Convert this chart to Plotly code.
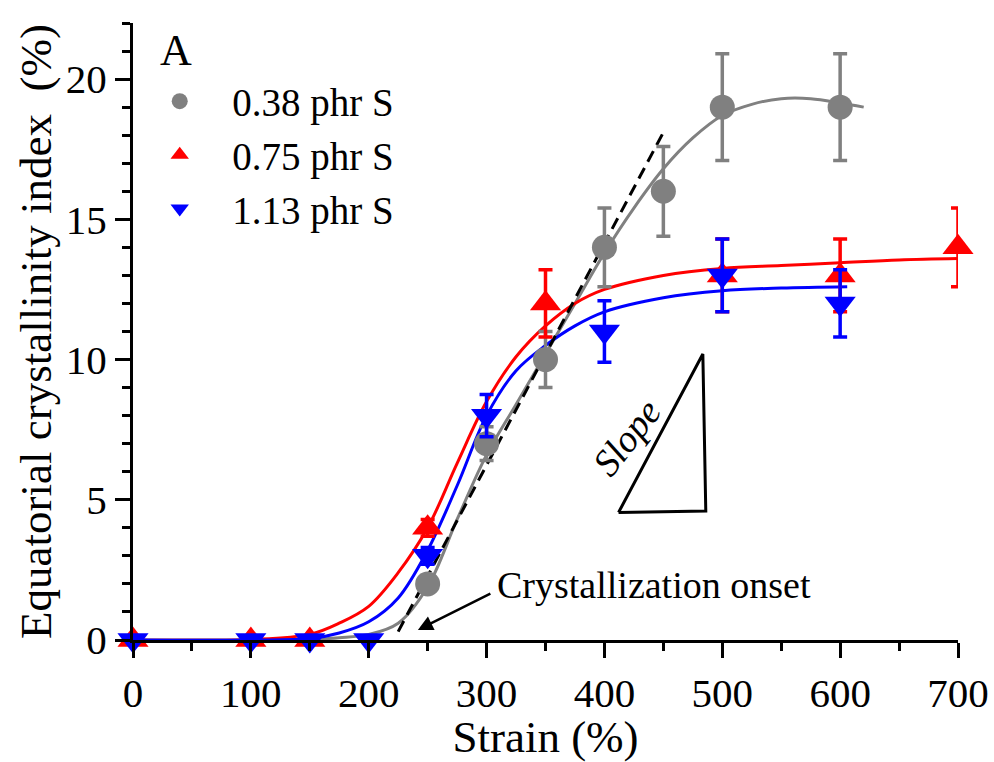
import plotly.graph_objects as go

# ---------------- data ----------------
# measured points
gray_x = [250, 300, 350, 400, 450, 500, 600]
gray_y = [2, 7, 10, 14, 16, 19, 19]
gray_err = [0.3, 0.6, 1.0, 1.4, 1.6, 1.9, 1.9]

red_x = [0, 100, 150, 250, 350, 500, 600, 700]
red_y = [0, 0, 0, 4, 12, 13, 13, 14]
red_err = [0, 0, 0, 0.3, 1.2, 1.3, 1.3, 1.4]

blue_x = [0, 100, 150, 200, 250, 300, 400, 500, 600]
blue_y = [0, 0, 0, 0, 3, 8, 11, 13, 12]
blue_err = [0, 0, 0, 0, 0.3, 0.75, 1.1, 1.3, 1.2]

# fitted curves
gray_fit_x = [0, 100, 150, 175, 200, 225, 250, 275, 300, 325, 350, 375, 400, 425, 450, 475, 500, 525, 550, 575, 600, 620]
gray_fit_y = [0, 0, 0.02, 0.08, 0.2, 0.6, 1.9, 4.3, 6.6, 8.4, 10.2, 12.0, 13.8, 15.4, 16.8, 17.9, 18.7, 19.1, 19.3, 19.3, 19.15, 19.0]

red_fit_x = [0, 100, 150, 175, 200, 225, 250, 275, 300, 325, 350, 375, 400, 450, 500, 550, 600, 650, 700]
red_fit_y = [0, 0.02, 0.2, 0.6, 1.2, 2.4, 4.0, 6.3, 8.5, 10.1, 11.2, 12.0, 12.5, 13.0, 13.25, 13.35, 13.45, 13.55, 13.6]

blue_fit_x = [0, 100, 150, 175, 200, 225, 250, 275, 300, 325, 350, 375, 400, 450, 500, 550, 606]
blue_fit_y = [0, 0, 0.05, 0.25, 0.65, 1.5, 3.2, 5.5, 8.0, 9.6, 10.5, 11.2, 11.7, 12.2, 12.45, 12.55, 12.6]

# slope guide line and triangle
slope_line_x = [225, 450]
slope_line_y = [0.3, 18.1]
tri_x = [412, 483.5, 486, 412]
tri_y = [4.55, 10.2, 4.6, 4.55]

x_ticks = [0, 100, 200, 300, 400, 500, 600, 700]
y_ticks = [0, 5, 10, 15, 20]

series_names = ["0.38 phr S", "0.75 phr S", "1.13 phr S"]

GRAY = "#808080"
RED = "#ff0000"
BLUE = "#0000ff"
FONT = "Liberation Serif"

fig = go.Figure()

# fitted curves
for fx, fy, c in [(gray_fit_x, gray_fit_y, GRAY), (red_fit_x, red_fit_y, RED), (blue_fit_x, blue_fit_y, BLUE)]:
    fig.add_trace(go.Scatter(x=fx, y=fy, mode="lines", line=dict(color=c, width=3, shape="spline"),
                             showlegend=False, hoverinfo="skip", cliponaxis=False))

# dashed slope line
fig.add_trace(go.Scatter(x=slope_line_x, y=slope_line_y, mode="lines",
                         line=dict(color="black", width=3, dash="12px,7px"),
                         showlegend=False, hoverinfo="skip", cliponaxis=False))
# triangle
fig.add_trace(go.Scatter(x=tri_x, y=tri_y, mode="lines", line=dict(color="black", width=3),
                         showlegend=False, hoverinfo="skip", cliponaxis=False))

# data points
for xs, ys, es, c, sym, sz, name in [
    (gray_x, gray_y, gray_err, GRAY, "circle", 25, series_names[0]),
    (red_x, red_y, red_err, RED, "triangle-up", 27, series_names[1]),
    (blue_x, blue_y, blue_err, BLUE, "triangle-down", 27, series_names[2]),
]:
    fig.add_trace(go.Scatter(
        x=xs, y=ys, mode="markers", name=name,
        marker=dict(symbol=sym, size=sz, color=c, line=dict(width=0)),
        error_y=dict(type="data", array=es, color=c, thickness=3.5, width=7),
        cliponaxis=False,
    ))

fig.add_annotation(x=241.7, y=0.36, xref="x", yref="y", text="", showarrow=True,
                   axref="x", ayref="y", ax=304.5, ay=1.68,
                   arrowhead=2, arrowsize=1.2, arrowwidth=2.5, arrowcolor="black", standoff=0, startstandoff=0)
fig.add_annotation(x=307, y=1.95, xref="x", yref="y", text="Crystallization onset", showarrow=False,
                   xanchor="left", yanchor="middle", font=dict(family=FONT, size=38, color="black"))
fig.add_annotation(x=419, y=7.25, xref="x", yref="y", text="<i>Slope</i>", showarrow=False,
                   textangle=-52, font=dict(family=FONT, size=38, color="black"))
fig.add_annotation(x=0.052, y=0.955, xref="paper", yref="paper", text="A", showarrow=False,
                   xanchor="center", yanchor="middle", font=dict(family=FONT, size=44, color="black"))

axis_common = dict(showline=True, linecolor="black", linewidth=3, ticks="outside", ticklen=15,
                   tickwidth=3, tickcolor="black", showgrid=False, zeroline=False, automargin=False,
                   tickfont=dict(family=FONT, size=41, color="black"))

fig.update_xaxes(range=[0, 700], tickvals=x_ticks,
                 minor=dict(dtick=50, ticks="outside", ticklen=8, tickwidth=3, tickcolor="black", showgrid=False),
                 title=dict(text="Strain (%)", font=dict(family=FONT, size=45, color="black"), standoff=6),
                 **axis_common)
fig.update_yaxes(range=[0, 22], tickvals=y_ticks,
                 minor=dict(dtick=1, ticks="outside", ticklen=8, tickwidth=3, tickcolor="black", showgrid=False),
                 title=dict(text="Equatorial crystallinity index \u00a0(%)", font=dict(family=FONT, size=45, color="black"), standoff=1),
                 **axis_common)

fig.update_layout(
    width=994, height=762,
    margin=dict(l=133, r=36, t=23, b=122),
    paper_bgcolor="white", plot_bgcolor="white",
    font=dict(family=FONT, color="black"),
    legend=dict(x=-0.007, y=0.925, xanchor="left", yanchor="top", bgcolor="rgba(0,0,0,0)",
                font=dict(family=FONT, size=39, color="black"), itemwidth=95, tracegroupgap=0),
    showlegend=True,
)

fig.write_html("out.html")
